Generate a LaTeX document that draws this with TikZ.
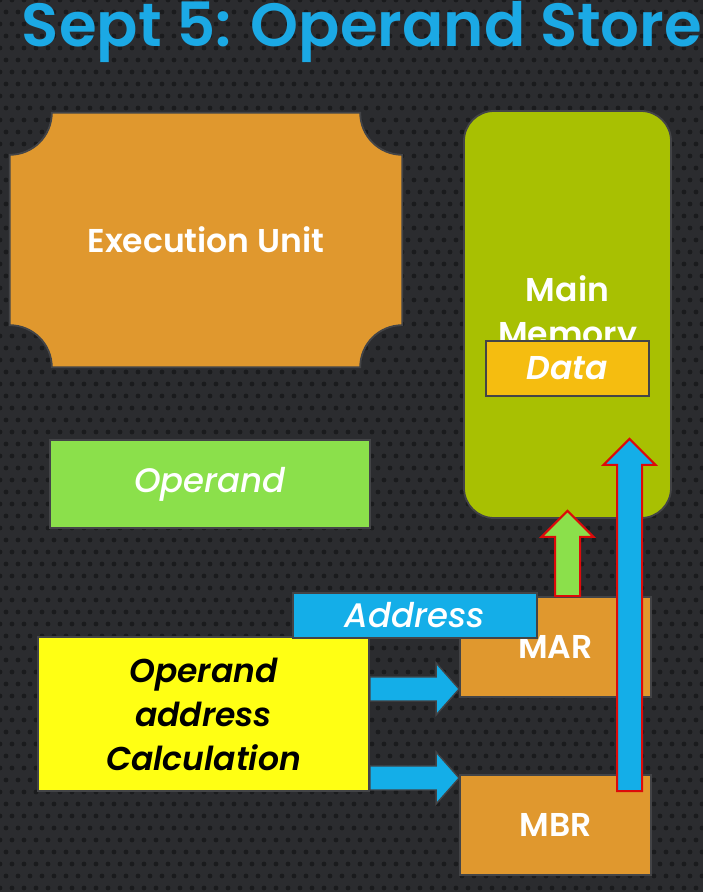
\documentclass[tikz,border=0pt]{standalone}
\usepackage{fontspec}
\setmainfont{Poppins}[UprightFont=*-Medium,ItalicFont=*-MediumItalic,
  BoldFont=*-SemiBold,BoldItalicFont=*-SemiBoldItalic]
\usetikzlibrary{calc}

\definecolor{bgc}{HTML}{2B2C2F}
\definecolor{dotc}{HTML}{1A1B1D}
\definecolor{edgec}{HTML}{434447}
\definecolor{unitc}{HTML}{E0982E}
\definecolor{opc}{HTML}{8BE04B}
\definecolor{memc}{HTML}{A8C002}
\definecolor{datac}{HTML}{F5BD10}
\definecolor{busc}{HTML}{14AEE8}
\definecolor{calcc}{HTML}{FFFF14}
\definecolor{titlec}{HTML}{1BA9E5}
\definecolor{outc}{HTML}{DD0A0A}

% block arrows: #1 = tail point, #2 = tip point, #3 = style
\newcommand{\rightblock}[3]{%
  \draw[#3] let \p1=(#1), \p2=(#2) in
    (\x1,\y1+12pt) -- (\x2-23pt,\y1+12pt) -- (\x2-23pt,\y1+26pt) -- (\x2,\y1)
    -- (\x2-23pt,\y1-26pt) -- (\x2-23pt,\y1-12pt) -- (\x1,\y1-12pt) -- cycle;}
\newcommand{\upblock}[3]{%
  \draw[#3] let \p1=(#1), \p2=(#2) in
    (\x1-12.5pt,\y1) -- (\x1-12.5pt,\y2-26pt) -- (\x1-26pt,\y2-26pt) -- (\x1,\y2)
    -- (\x1+26pt,\y2-26pt) -- (\x1+12.5pt,\y2-26pt) -- (\x1+12.5pt,\y1) -- cycle;}

\begin{document}
\begin{tikzpicture}[x=1pt,y=1pt,
  blk/.style={draw=edgec,line width=1.8pt,inner sep=0pt,align=center,text=white,
    font=\fontsize{33}{44}\selectfont},
  reg/.style={blk,fill=unitc,minimum width=191pt,minimum height=100pt,font=\fontsize{33}{44}\selectfont\bfseries},
  busarrow/.style={fill=busc,draw=edgec,line width=1.4pt,line join=miter},
  memarrow/.style={draw=outc,line width=2pt,line join=miter}]
% background
\useasboundingbox (0,0) rectangle (703,892);
\fill[bgc] (0,0) rectangle (703,892);
\begin{scope}
\clip (0,0) rectangle (703,892);
\foreach \i in {0,...,59}
  \foreach \j in {0,...,74}
    \fill[dotc] ({\i*12+6*mod(\j,2)},{\j*12+4}) circle (2.4);
\end{scope}

\node[anchor=base,text=titlec,font=\fontsize{61}{66}\selectfont\bfseries] (title) at (362,845)
  {Sept 5: Operand Store};

% execution unit (plaque)
\node[minimum width=392pt,minimum height=254pt,inner sep=0pt] (eu) at (206,652) {};
\fill[unitc,draw=edgec,line width=1.8pt]
  ([xshift=42pt]eu.north west) -- ([xshift=-42pt]eu.north east)
  arc[start angle=180,end angle=270,radius=42pt]
  -- ([yshift=42pt]eu.south east) arc[start angle=90,end angle=180,radius=42pt]
  -- ([xshift=42pt]eu.south west) arc[start angle=0,end angle=90,radius=42pt]
  -- ([yshift=-42pt]eu.north west) arc[start angle=270,end angle=360,radius=42pt]
  -- cycle;
\node[text=white,font=\fontsize{33}{44}\selectfont\bfseries] at (eu) {Execution Unit};

\node[blk,fill=opc,minimum width=320pt,minimum height=88pt,font=\fontsize{34}{44}\selectfont\itshape]
  (operand) at (210,408) {Operand};

\node[blk,fill=memc,rounded corners=30pt,minimum width=207pt,minimum height=407pt,
  font=\fontsize{33}{44}\selectfont\bfseries] (mem) at (567.5,577.5) {Main\\Memory};
\node[blk,fill=datac,minimum width=163pt,minimum height=55pt,font=\fontsize{33}{44}\selectfont\bfseries\itshape]
  (data) at (567.5,523.5) {Data};

\node[reg] (mar) at (555.5,245) {MAR};
\node[reg] (mbr) at (555.5,67) {MBR};

\node[blk,fill=calcc,text=black,minimum width=331pt,minimum height=154pt,
  font=\fontsize{33}{44}\selectfont\bfseries\itshape] (calc) at (203.5,178)
  {Operand\\address\\Calculation};

\node[blk,fill=busc,minimum width=244pt,minimum height=45pt,font=\fontsize{34}{44}\selectfont\itshape]
  (addr) at (415,276.5) {Address};

% connectors
\rightblock{calc.east |- 0,203}{mar.west |- 0,203}{busarrow}
\rightblock{calc.east |- 0,114}{mbr.west |- 0,114}{busarrow}
\upblock{[xshift=12pt]mar.north}{[yshift=8pt]mem.south}{memarrow,fill=opc}
\coordinate (busend) at ([xshift=74pt,yshift=-17pt]mbr.north);
\coordinate (busTip) at ([yshift=80pt]mem.south);
\upblock{busend}{busTip}{memarrow,fill=busc}
\end{tikzpicture}
\end{document}
